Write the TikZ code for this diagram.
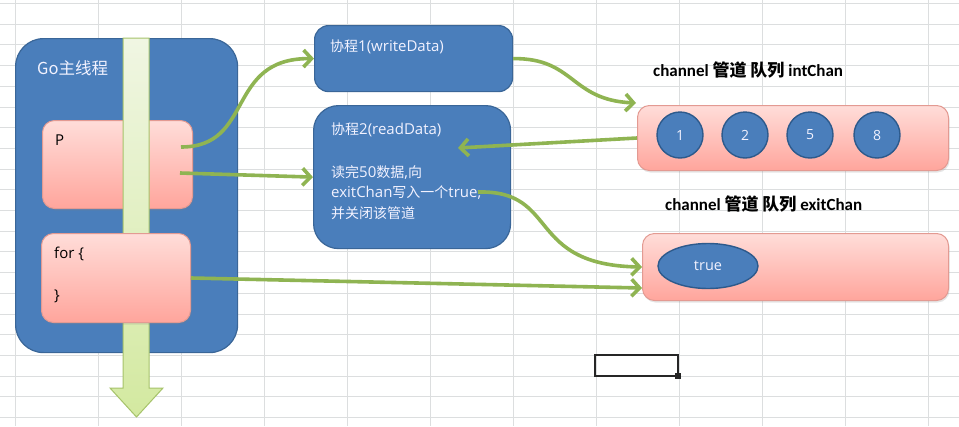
\documentclass[tikz,border=0pt]{standalone}
\usepackage{fontspec}
\setmainfont{Carlito}
\newfontfamily\cjk{Noto Sans CJK SC}
\newfontfamily\boxfont{Open Sans}
\newcommand\zh[1]{{\cjk\fontsize{14pt}{19pt}\selectfont #1}}
\usetikzlibrary{shapes.geometric, arrows.meta, positioning, calc, shadows}
\definecolor{office-blue}{HTML}{4A7EBB}
\definecolor{office-blue-dark}{HTML}{3A6698}
\definecolor{item-border}{HTML}{2D5A8C}
\definecolor{pink-top}{HTML}{FFDDD9}
\definecolor{pink-bottom}{HTML}{FFA59C}
\definecolor{pink-border}{HTML}{E39A92}
\definecolor{arrow-green}{HTML}{8FB452}
\definecolor{shaft-top}{HTML}{F0F6E3}
\definecolor{shaft-bottom}{HTML}{D3E9A0}
\definecolor{shaft-border}{HTML}{A6C36A}
\definecolor{grid-gray}{HTML}{DCDEDF}

\begin{document}
\begin{tikzpicture}[
    x=1pt, y=-1pt,
    bluebox/.style={rectangle, draw=office-blue-dark, line width=1.2pt, fill=office-blue, anchor=north west},
    pinkbox/.style={rectangle, draw=pink-border, line width=1pt, top color=pink-top, bottom color=pink-bottom, rounded corners=12pt, anchor=north west, drop shadow={shadow xshift=1pt, shadow yshift=-2pt, opacity=0.2}},
    item/.style={circle, draw=item-border, line width=1.4pt, fill=office-blue, minimum size=46pt, inner sep=0pt, text=white!95!blue, font=\boxfont\fontsize{14pt}{17pt}\selectfont},
    wtext/.style={anchor=west, inner sep=0pt, text=white!95!blue, font=\boxfont\fontsize{15pt}{19pt}\selectfont},
    btext/.style={anchor=west, inner sep=0pt, text=black, font=\boxfont\fontsize{15pt}{18pt}\selectfont},
    title/.style={anchor=west, inner sep=0pt, text=black, font=\fontsize{17pt}{20pt}\selectfont\bfseries},
    arrow/.style={-{Straight Barb[length=8pt, width=17pt]}, line width=3.6pt, arrow-green}
]
    \useasboundingbox (0,0) rectangle (959,426);
    \fill[white] (0,0) rectangle (959,426);

    % sheet grid
    \foreach \k in {0,...,11}
        \draw[grid-gray, line width=0.9pt] (15+83*\k,0) -- (15+83*\k,426);
    \foreach \k in {0,...,20}
        \draw[grid-gray, line width=0.9pt] (0,3.5+20.7*\k) -- (959,3.5+20.7*\k);
    \draw[black!85, line width=2.5pt] (595,355) rectangle (678,376);
    \fill[black!85] (675,373) rectangle (681,379);

    % main goroutine
    \node[bluebox, rounded corners=28pt, minimum width=222pt, minimum height=314pt] (go) at (15,38) {};
    \node[wtext, font=\cjk\fontsize{16.5pt}{19pt}\selectfont] (go-label) at (37,68) {Go主线程};
    \node[pinkbox, minimum width=150pt, minimum height=88pt] (p) at (42,120) {};
    \node[btext] (p-label) at (55,140) {P};
    \path[draw=shaft-border, line width=1pt, top color=shaft-top, bottom color=shaft-bottom]
        (123,38) -- (149,38) -- (149,388) -- (163,388) -- (136.5,417) -- (110,388) -- (123,388) -- cycle;
    \node[pinkbox, minimum width=149pt, minimum height=89pt] (fr) at (41,233) {};
    \node[btext] (fr-open) at (54,254) {for \{};
    \node[btext] (fr-close) at (54,296) {\}};

    % goroutines
    \node[bluebox, rounded corners=14pt, minimum width=198pt, minimum height=66pt] (co1) at (314,25) {};
    \node[wtext] (co1-label) at (330,47) {\zh{协程}1(writeData)};
    \node[bluebox, rounded corners=25pt, minimum width=197pt, minimum height=143pt] (co2) at (313,105) {};
    \node[wtext] (co2-label) at (331,130) {\zh{协程}2(readData)};
    \node[wtext] (co2-line1) at (331,173) {\zh{读完}50\zh{数据},\zh{向}};
    \node[wtext] (co2-line2) at (331,193) {exitChan\zh{写入一个}true,};
    \node[wtext] (co2-line3) at (331,213) {\zh{并关闭该管道}};

    % channels
    \node[title] (ic-title) at (653,70) {channel {\cjk 管道} {\cjk 队列} intChan};
    \node[pinkbox, minimum width=311pt, minimum height=65pt] (ic) at (637,105) {};
    \node[item] (n1) at (680,135) {1};
    \node[item] (n2) at (745,135) {2};
    \node[item] (n5) at (810,135) {5};
    \node[item] (n8) at (877,135) {8};
    \node[title] (ec-title) at (665,204) {channel {\cjk 管道} {\cjk 队列} exitChan};
    \node[pinkbox, minimum width=306pt, minimum height=67pt] (ec) at (642,233) {};
    \node[ellipse, draw=item-border, line width=1.4pt, fill=office-blue, minimum width=100pt, minimum height=45pt, text=white!95!blue, font=\boxfont\fontsize{14.5pt}{18pt}\selectfont] (flag) at (708,266) {true};

    \coordinate (p-out1) at (181,147);
    \coordinate (p-out2) at (180,173);
    \coordinate (ic-in) at (636,103);
    \coordinate (co2-in) at (458,148);
    \coordinate (co2-out) at (478,192);

    \draw[arrow] (p-out1) .. controls (255,147) and (225,58) .. (co1.west);
    \draw[arrow] (p-out2) -- (co2.west);
    \draw[arrow] (co1.east) .. controls (575,58) and (570,100) .. (ic-in);
    \draw[arrow] (ic.west) -- (co2-in);
    \draw[arrow] (co2-out) .. controls (560,190) and (525,265) .. (ec.west);
    \draw[arrow] (fr.east) -- ($(ec.west)+(0,21)$);
\end{tikzpicture}
\end{document}
